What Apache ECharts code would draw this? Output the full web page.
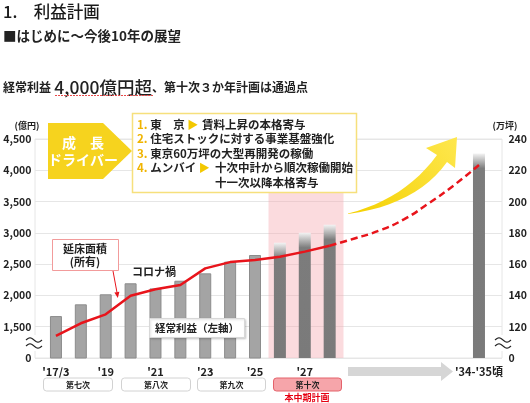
<!DOCTYPE html>
<html>
<head>
<meta charset="utf-8">
<script src="https://cdn.jsdelivr.net/npm/echarts@6/dist/echarts.min.js"></script>
<style>
    html, body { margin: 0; padding: 0; background: #fff; }
    #main { width: 530px; height: 403px; }
</style>
</head>
<body>
<div id="main"></div>
<script>
// 年度（'29〜'33 は間隔用の空きカテゴリ）
var years = ["'17/3", "'18", "'19", "'20", "'21", "'22", "'23", "'24", "'25", "'26", "'27", "'28",
    "'29", "'30", "'31", "'32", "'33", "'34-'35頃"];
// 経常利益（億円）
var profit = [1670, 1858, 2018, 2194, 2112, 2235, 2353, 2540, 2646, 2843, 3003, 3130,
    null, null, null, null, null, 4270];
// 延床面積（所有, 万坪）実績
var floorArea = [114.1, 122.2, 127.9, 139.8, 143.9, 146.7, 157.3, 161.3, 162.6, 164.7, 168.0, 171.8];
// 延床面積 見通し（'28 から '34-'35頃）
var floorAreaPlan = [171.8, 176.4, 181.5, 188.8, 199.1, 210.5, 223.4];
// 軸目盛
var leftTickLabels = ['0', '1,500', '2,000', '2,500', '3,000', '3,500', '4,000', '4,500'];
var rightTickLabels = ['0', '120', '140', '160', '180', '200', '220', '240'];
// 本中期計画の年度（'26〜'28）
var planIndex = [9, 11];
var planFrom = 10; // 見通しの開始位置は '28 (index 11)

var FONT = '"Noto Sans CJK JP", "Noto Sans", sans-serif';
var INK = '#222';

var chart = echarts.init(document.getElementById('main'));

// 見通しの点線データ
var planData = [];
for (var i = 0; i < years.length; i++) {
    if (i > planFrom) {
        planData.push(floorAreaPlan[i - planFrom - 1]);
    } else {
        planData.push(null);
    }
}

// 棒グラフ（計画年度はグラデーション）
var barData = profit.map(function (v, i) {
    if (v === null) {
        return null;
    }
    if (i < planIndex[0]) {
        return {value: v, itemStyle: {color: '#a4a4a4', borderColor: '#8c8c8c', borderWidth: 1}};
    }
    var fade = Math.min(0.5, 240 / (v - 1000));
    return {
        value: v,
        itemStyle: {
            color: {
                type: 'linear', x: 0, y: 0, x2: 0, y2: 1,
                colorStops: [
                    {offset: 0, color: '#f4f4f4'},
                    {offset: fade, color: '#7c7c7c'},
                    {offset: 1, color: '#7a7a7a'}
                ]
            }
        }
    };
});

function txt(x, y, text, size, opts) {
    opts = opts || {};
    return {
        type: 'text', z: 100,
        style: {
            x: x, y: y, text: text,
            font: (opts.weight || 'bold') + ' ' + size + 'px ' + FONT,
            fill: opts.color || INK,
            align: opts.align || 'left',
            verticalAlign: 'middle',
            rich: opts.rich
        }
    };
}

function planBox(x1, x2, label, current) {
    return [{
        type: 'rect', z: 100,
        shape: {x: x1, y: 378, width: x2 - x1, height: 13, r: 3},
        style: {
            fill: current ? '#f6a5aa' : '#fff',
            stroke: current ? '#e4626b' : '#d2d2d2',
            lineWidth: 1
        }
    }, txt((x1 + x2) / 2, 384.5, label, 8, {align: 'center'})];
}

// 二次ベジェ曲線の点列
function quad(p0, c, p1, n) {
    var pts = [];
    for (var k = 0; k <= n; k++) {
        var t = k / n;
        pts.push([
            (1 - t) * (1 - t) * p0[0] + 2 * (1 - t) * t * c[0] + t * t * p1[0],
            (1 - t) * (1 - t) * p0[1] + 2 * (1 - t) * t * c[1] + t * t * p1[1]
        ]);
    }
    return pts;
}

// 波線（軸の省略記号）
function breakMark(x) {
    var els = [{
        type: 'rect', z: 99,
        shape: {x: x - 1, y: 335, width: 19, height: 16},
        style: {fill: '#fff'}
    }];
    [340, 346].forEach(function (y0) {
        var pts = [];
        for (var k = 0; k <= 16; k++) {
            pts.push([x + k, y0 - 2.2 * Math.sin(k / 16 * 2 * Math.PI)]);
        }
        els.push({
            type: 'polyline', z: 100,
            shape: {points: pts},
            style: {fill: null, stroke: INK, lineWidth: 1.2}
        });
    });
    return els;
}

// 黄色の矢印の輪郭
var arrowPts = quad([348, 213.5], [405, 199], [437, 155], 12)
    .concat([[426, 148], [457, 137], [455, 168]])
    .concat(quad([447, 162], [416, 205], [348, 214], 12));

var numRich = {
    n: {font: 'bold 11.5px ' + FONT, fill: '#f0b400'},
    t: {font: 'bold 11px ' + FONT, fill: '#f3c800'}
};

var elements = [
    // 見出し
    txt(3, 12, '1.\u3000利益計画', 16.5, {weight: '500', color: '#1a1a1a'}),
    txt(3, 36, '■はじめに～今後10年の展望', 13.5),
    {
        type: 'text', z: 100,
        style: {
            x: 3, y: 87, verticalAlign: 'middle',
            text: '{s|経常利益} {b|4,000億円超}{s|、第十次３か年計画は通過点}',
            rich: {
                s: {font: 'bold 12px ' + FONT, fill: INK},
                b: {font: '500 17.5px ' + FONT, fill: INK}
            }
        }
    },
    {
        type: 'line', z: 100,
        shape: {x1: 55, y1: 95.5, x2: 153, y2: 95.5},
        style: {stroke: '#e84a4a', lineWidth: 1, lineDash: [2, 1]}
    },
    // 成長ドライバー
    {
        type: 'polygon', z: 100,
        shape: {points: [[48, 123], [103, 123], [132, 151], [103, 179], [48, 179]]},
        style: {fill: '#f6d31e'}
    },
    txt(83, 143, '成\u3000長', 14, {color: '#fff', align: 'center'}),
    txt(83, 160, 'ドライバー', 14, {color: '#fff', align: 'center'}),
    {
        type: 'rect', z: 100,
        shape: {x: 132.5, y: 113.5, width: 224, height: 79},
        style: {fill: '#fff', stroke: '#f6e07c', lineWidth: 1.5}
    },
    txt(137, 125, '{n|1.} 東\u3000京 {t|▶}', 11.5, {rich: numRich}),
    txt(202, 125, '賃料上昇の本格寄与', 11.5),
    txt(137, 139, '{n|2.} 住宅ストックに対する事業基盤強化', 11.5, {rich: numRich}),
    txt(137, 153.5, '{n|3.} 東京60万坪の大型再開発の稼働', 11.5, {rich: numRich}),
    txt(137, 168, '{n|4.} ムンバイ {t|▶}', 11.5, {rich: numRich}),
    txt(215, 168, '十次中計から順次稼働開始', 11.5),
    txt(215, 183, '十一次以降本格寄与', 11.5),
    // 黄色の矢印
    {
        type: 'polygon', z: 100,
        shape: {points: arrowPts},
        style: {
            fill: {
                type: 'linear', x: 0, y: 1, x2: 1, y2: 0,
                colorStops: [{offset: 0, color: '#f4d000'}, {offset: 1, color: '#fee74e'}]
            }
        }
    },
    // 軸の単位
    txt(27, 126, '(億円)', 9, {align: 'center'}),
    txt(505, 126, '(万坪)', 9, {align: 'center'}),
    // 延床面積の注記
    {
        type: 'rect', z: 100,
        shape: {x: 52.5, y: 239.5, width: 66, height: 31},
        style: {fill: '#fff', stroke: '#f29b9b', lineWidth: 1}
    },
    txt(85, 248.5, '延床面積', 11, {align: 'center'}),
    txt(85, 262, '(所有)', 11, {align: 'center'}),
    {
        type: 'line', z: 100,
        shape: {x1: 113, y1: 271, x2: 116.9, y2: 292},
        style: {stroke: '#e8141b', lineWidth: 1}
    },
    {
        type: 'polygon', z: 100,
        shape: {points: [[119.4, 291.7], [114.4, 292.5], [117.8, 298]]},
        style: {fill: '#e8141b'}
    },
    txt(154, 272, 'コロナ禍', 11, {align: 'center'}),
    {
        type: 'rect', z: 100,
        shape: {x: 149.5, y: 318.5, width: 95, height: 19},
        style: {fill: '#fff', stroke: '#d8d8d8', lineWidth: 1, shadowBlur: 2, shadowColor: 'rgba(0,0,0,0.15)', shadowOffsetX: 1, shadowOffsetY: 1}
    },
    txt(197, 328, '経常利益（左軸）', 10.5, {align: 'center'}),
    // 灰色の矢印
    {
        type: 'polygon', z: 100,
        shape: {points: [[348, 367], [441, 367], [441, 362], [453, 371.5], [441, 381], [441, 376], [348, 376]]},
        style: {fill: '#d6d6d6'}
    },
    txt(307, 397.5, '本中期計画', 9, {align: 'center', color: '#e60012'})
];
elements = elements
    .concat(breakMark(26))
    .concat(breakMark(495))
    .concat(planBox(43.5, 112.5, '第七次', false))
    .concat(planBox(121.5, 190.5, '第八次', false))
    .concat(planBox(197.5, 265.5, '第九次', false))
    .concat(planBox(273.5, 341.5, '第十次', true));

var option = {
    animation: false,
    textStyle: {fontFamily: FONT},
    grid: [
        {left: 35, right: 28, top: 139, bottom: 45, show: true, borderColor: '#e6e6e6', borderWidth: 1},
        {left: 43.5, right: 36.5, top: 139, bottom: 45}
    ],
    xAxis: [
        {gridIndex: 0, type: 'value', min: -0.84, max: 17.84, show: false},
        {
            gridIndex: 1, type: 'category', data: years,
            axisLine: {show: false}, axisTick: {show: false},
            axisLabel: {
                interval: function (i) {
                    return (i % 2 === 0 && i <= 10) || i === years.length - 1;
                },
                margin: 8, color: INK, fontWeight: 'bold', fontSize: 11
            }
        }
    ],
    yAxis: [
        {
            gridIndex: 0, type: 'value', min: 1000, max: 4500, interval: 500,
            axisLabel: {show: false}, axisLine: {show: false}, axisTick: {show: false},
            splitLine: {lineStyle: {color: '#e6e6e6'}}
        },
        {
            gridIndex: 1, type: 'value', min: 1000, max: 4500, interval: 500, position: 'left',
            axisLine: {show: false}, axisTick: {show: false}, splitLine: {show: false},
            axisLabel: {
                margin: 12, color: INK, fontWeight: 'bold', fontSize: 10.5,
                formatter: function (v, i) { return leftTickLabels[i]; }
            }
        },
        {
            gridIndex: 1, type: 'value', min: 100, max: 240, interval: 20, position: 'right',
            axisLine: {show: false}, axisTick: {show: false}, splitLine: {show: false},
            axisLabel: {
                margin: 17, color: INK, fontWeight: 'bold', fontSize: 10.5,
                formatter: function (v, i) { return rightTickLabels[i]; }
            }
        }
    ],
    graphic: {elements: elements},
    series: [
        {
            // 本中期計画の網掛け
            type: 'line', xAxisIndex: 0, yAxisIndex: 0, data: [], z: 1, silent: true,
            markArea: {
                silent: true,
                itemStyle: {color: 'rgba(246,170,176,0.42)'},
                data: [[{xAxis: planIndex[0] - 0.5, yAxis: 1000}, {xAxis: planIndex[1] + 0.5, yAxis: 3640}]]
            }
        },
        {
            name: '経常利益', type: 'bar', xAxisIndex: 1, yAxisIndex: 1,
            barWidth: 12, data: barData, z: 2
        },
        {
            name: '延床面積', type: 'line', xAxisIndex: 1, yAxisIndex: 2, data: floorArea,
            symbol: 'none', z: 3, lineStyle: {color: '#e8141b', width: 2.5}
        },
        {
            name: '延床面積見通し', type: 'line', xAxisIndex: 1, yAxisIndex: 2, data: planData,
            symbol: 'none', smooth: true, z: 3,
            lineStyle: {color: '#e8141b', width: 2.5, type: [7, 4]}
        }
    ]
};

chart.setOption(option);
</script>
</body>
</html>
